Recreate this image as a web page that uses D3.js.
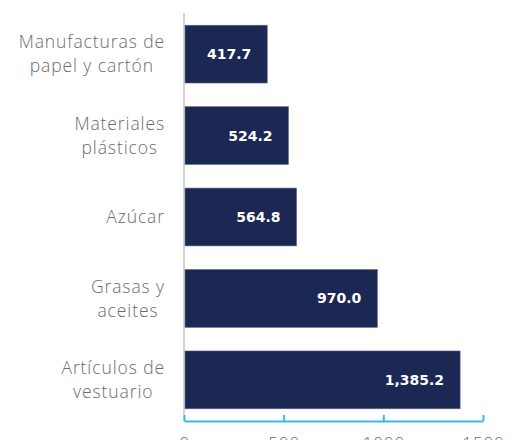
<!DOCTYPE html>
<html lang="es">
  <head>
    <meta charset="UTF-8" />
    <title>Exportaciones por producto</title>
    <script src="https://d3js.org/d3.v7.min.js"></script>
    <style>
      html,
      body {
        margin: 0;
        background: #ffffff;
      }
      .cat-label {
        font-family: "Open Sans", "Lato", sans-serif;
        font-weight: 300;
        font-size: 17.5px;
        letter-spacing: 0.9px;
        fill: #6b6b6b;
      }
      .value-label {
        font-family: "DejaVu Sans", sans-serif;
        font-weight: 700;
        font-size: 14px;
        fill: #ffffff;
      }
      .tick-label {
        font-family: "Open Sans", sans-serif;
        font-weight: 300;
        font-size: 17px;
        letter-spacing: 0.9px;
        fill: #6b6b6b;
      }
    </style>
  </head>
  <body>
    <svg id="chart" width="519" height="440"></svg>
    <script>
      // Data
      const categories = [
        ["Manufacturas de", "papel y cartón"],
        ["Materiales", "plásticos"],
        ["Azúcar"],
        ["Grasas y", "aceites"],
        ["Artículos de", "vestuario"],
      ];
      const values = [417.7, 524.2, 564.8, 970.0, 1385.2];
      const xTicks = [0, 500, 1000, 1500];

      const margin = { top: 13, left: 184, right: 36, bottom: 19 };
      const width = 519 - margin.left - margin.right;
      const height = 440 - margin.top - margin.bottom;

      const svg = d3.select("#chart");
      const g = svg
        .append("g")
        .attr("transform", `translate(${margin.left},${margin.top})`);

      const x = d3.scaleLinear().domain([0, 1500]).range([0, width]);
      const y = d3
        .scaleBand()
        .domain(d3.range(values.length))
        .range([0, height])
        .paddingInner(0.29)
        .paddingOuter(0.15);

      // vertical grey axis line
      g.append("line")
        .attr("x1", 0)
        .attr("x2", 0)
        .attr("y1", 0)
        .attr("y2", height)
        .attr("stroke", "#d4d4d4")
        .attr("stroke-width", 2);

      // bars
      g.selectAll("rect.bar")
        .data(values)
        .enter()
        .append("rect")
        .attr("class", "bar")
        .attr("x", 1)
        .attr("y", (d, i) => y(i))
        .attr("width", (d) => x(d) - 1)
        .attr("height", y.bandwidth())
        .attr("fill", "#1c2854")
        .attr("stroke", "#5d6a8a")
        .attr("stroke-width", 0.6);

      // value labels
      const fmt = d3.format(",.1f");
      g.selectAll("text.value-label")
        .data(values)
        .enter()
        .append("text")
        .attr("class", "value-label")
        .attr("x", (d) => x(d) - 16)
        .attr("y", (d, i) => y(i) + y.bandwidth() / 2)
        .attr("dy", "0.36em")
        .attr("text-anchor", "end")
        .text((d) => fmt(d));

      // category labels: block right aligned, lines centred within it
      const labelRight = -19;
      const lineH = 24;
      categories.forEach((lines, i) => {
        const t = g
          .append("text")
          .attr("class", "cat-label")
          .attr("text-anchor", "middle");
        const spans = lines.map((l) => t.append("tspan").text(l));
        const maxW = d3.max(spans, (s) => s.node().getComputedTextLength());
        const cx = labelRight - maxW / 2;
        const cy = y(i) + y.bandwidth() / 2;
        const first = cy - ((lines.length - 1) * lineH) / 2;
        spans.forEach((s, k) => {
          s.attr("x", cx)
            .attr("y", first + k * lineH)
            .attr("dy", "0.35em");
        });
      });

      // x axis
      const xAxis = d3
        .axisBottom(x)
        .tickValues(xTicks)
        .tickSize(0)
        .tickPadding(16)
        .tickFormat(d3.format("d"));
      const ax = g
        .append("g")
        .attr("transform", `translate(0,${height})`)
        .call(xAxis);
      ax.select(".domain")
        .attr("stroke", "#3cb8e6")
        .attr("stroke-width", 2);
      ax.selectAll(".tick text")
        .attr("class", "tick-label")
        .attr("fill", null)
        .attr("font-size", null)
        .attr("font-family", null);
      ax.selectAll(".tick")
        .append("line")
        .attr("y1", 0)
        .attr("y2", -6)
        .attr("stroke", "#3cb8e6")
        .attr("stroke-width", 2);
    </script>
  </body>
</html>
